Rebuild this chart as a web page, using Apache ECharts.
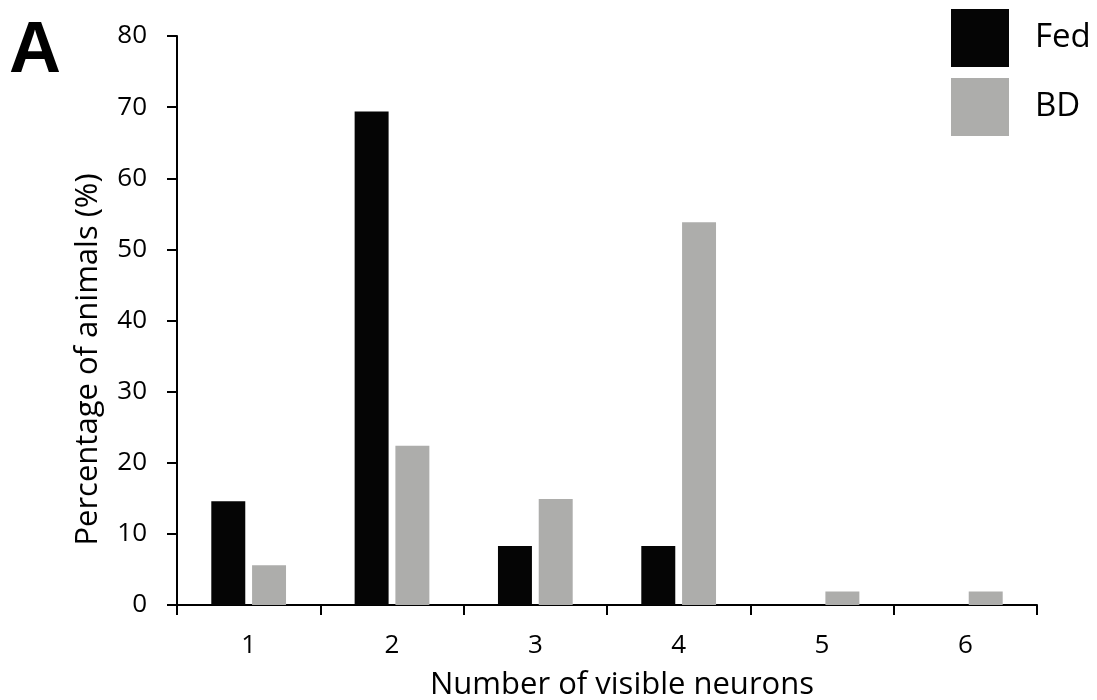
<!DOCTYPE html>
<html>
<head>
<meta charset="utf-8">
<script src="https://cdn.jsdelivr.net/npm/echarts@6/dist/echarts.min.js"></script>
<style>html,body{margin:0;padding:0;background:#fff}#c{width:1097px;height:700px}</style>
</head>
<body>
<div id="c"></div>
<script>
const categories = ['1', '2', '3', '4', '5', '6'];
const fedValues = [14.6, 69.4, 8.3, 8.3, 0, 0];
const bdValues = [5.6, 22.4, 14.9, 53.8, 1.9, 1.9];
const seriesNames = ['Fed', 'BD'];
const yTicks = { min: 0, max: 80, interval: 10 };

const FONT = '"Open Sans", "Noto Sans", sans-serif';
const chart = echarts.init(document.getElementById('c'), null, { renderer: 'canvas' });
chart.setOption({
  backgroundColor: '#fff',
  animation: false,
  textStyle: { fontFamily: FONT },
  grid: { left: 177, right: 60, top: 36, bottom: 95, containLabel: false, outerBoundsMode: 'none' },
  legend: {
    orient: 'vertical', left: 951, top: 9, padding: 0,
    itemWidth: 58, itemHeight: 58, itemGap: 11,
    icon: 'rect',
    textStyle: { fontSize: 33, color: '#000', fontFamily: FONT, padding: [4, 0, 0, 21] },
    data: seriesNames
  },
  graphic: [{
    type: 'text', left: 9, top: 16,
    style: { text: 'A', font: 'bold 72px "Liberation Sans", Arial, sans-serif', fill: '#000' }
  }],
  xAxis: {
    type: 'category', data: categories,
    axisLine: { lineStyle: { color: '#000', width: 2 } },
    axisTick: { show: true, length: 10, lineStyle: { color: '#000', width: 2 }, alignWithLabel: false },
    axisLabel: { color: '#000', fontSize: 26, margin: 28, fontFamily: FONT },
    name: 'Number of visible neurons', nameLocation: 'middle', nameGap: 65,
    nameTextStyle: { color: '#000', fontSize: 31, fontFamily: FONT, padding: [0, 0, 0, 30] }
  },
  yAxis: {
    type: 'value', min: yTicks.min, max: yTicks.max, interval: yTicks.interval,
    axisLine: { show: true, lineStyle: { color: '#000', width: 2 } },
    axisTick: { show: true, length: 10, lineStyle: { color: '#000', width: 2 } },
    splitLine: { show: false },
    axisLabel: { color: '#000', fontSize: 26, margin: 30, fontFamily: FONT },
    name: 'Percentage of animals (%)', nameLocation: 'middle', nameGap: 73, nameRotate: 90,
    nameTextStyle: { color: '#000', fontSize: 31, fontFamily: FONT, padding: [0, 78, 0, 0] }
  },
  series: [
    { name: seriesNames[0], type: 'bar', data: fedValues, barWidth: '23.7%', barGap: '20%',
      itemStyle: { color: '#050505' } },
    { name: seriesNames[1], type: 'bar', data: bdValues, barWidth: '23.7%',
      itemStyle: { color: '#adadab' } }
  ]
});
</script>
</body>
</html>
